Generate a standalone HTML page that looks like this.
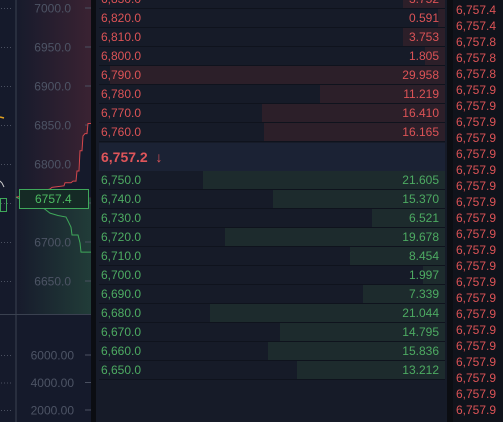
<!DOCTYPE html>
<html><head><meta charset="utf-8"><style>
*{margin:0;padding:0;box-sizing:border-box}
body{width:503px;height:422px;overflow:hidden;background:#0b0d12;font-family:"Liberation Sans",sans-serif;position:relative}
.abs{position:absolute}
#book{left:96px;top:0;width:351px;height:422px;background:#161b28}
.row{position:absolute;left:3px;width:346px;height:19px;border-bottom:1px solid #0f131d;font-size:12px;line-height:19px}
.row .bar{position:absolute;right:0;top:0;height:18px}
.row .p{position:absolute;left:2px}
.row .v{position:absolute;right:6px}
.ask{color:#dc5356}.bid{color:#4dab62}
.ask .bar{background:#2c1f29}.bid .bar{background:#1d2b2d}
#trades{left:453px;top:0;width:50px;height:422px;background:#10131b}
.t{position:absolute;left:3px;font-size:12px;color:#dc5356;line-height:14px}
</style></head><body>
<svg class="abs" style="left:0;top:0" width="91" height="422" viewBox="0 0 91 422">
<defs>
<linearGradient id="rg" x1="0" y1="0" x2="1" y2="0"><stop offset="0" stop-color="#171b2c"/><stop offset="1" stop-color="#3a2232"/></linearGradient>
<linearGradient id="gg" x1="0" y1="0" x2="1" y2="0"><stop offset="0" stop-color="#171b2c"/><stop offset="1" stop-color="#213c38"/></linearGradient>
</defs>
<rect width="91" height="422" fill="#151a2b"/>
<rect x="17" y="0" width="74" height="198" fill="url(#rg)"/>
<rect x="17" y="198" width="74" height="116" fill="url(#gg)"/>
<g id="depth"></g>
</svg>
<div id="book" class="abs"></div>
<div id="trades" class="abs"></div>
<script>
const yTicks=[7000,6950,6900,6850,6800,6750,6700,6650];
const volTicks=["6000.00","4000.00","2000.00"];
const askPrices=[6757.4,6762,6765,6768,6770,6772,6776,6776,6778,6778,6791,6791,6817,6817,6836,6839,6839,6852,6852];
const askDepth=[0,19,26,34,36,48,49,55,57,60,61,63,64,66,67,69,71,72,75];
const bidPrices=[6757.4,6752,6750,6742,6737,6734,6732,6727,6719,6709,6709,6699,6687,6687];
const bidDepth=[0,9,17,29,34,42,50,52,55,56,62,64,65,75];
const askBook=[["6,830.0",3.752],["6,820.0",0.591],["6,810.0",3.753],["6,800.0",1.805],["6,790.0",29.958],["6,780.0",11.219],["6,770.0",16.410],["6,760.0",16.165]];
const bidBook=[["6,750.0",21.605],["6,740.0",15.370],["6,730.0",6.521],["6,720.0",19.678],["6,710.0",8.454],["6,700.0",1.997],["6,690.0",7.339],["6,680.0",21.044],["6,670.0",14.795],["6,660.0",15.836],["6,650.0",13.212]];
const midPrice="6,757.2";
const trades=["6,757.4","6,757.4","6,757.8","6,757.8","6,757.8"].concat(Array(21).fill("6,757.9"));
const NS="http://www.w3.org/2000/svg";
const yP=p=>8+(7000-p)/50*39;
const xD=d=>16+d;
const g=document.getElementById('depth');
function mk(t,a){const e=document.createElementNS(NS,t);for(const k in a)e.setAttribute(k,a[k]);g.appendChild(e);return e;}
// axis
let ax=mk('line',{x1:16,y1:0,x2:16,y2:422,stroke:'#3a4150','stroke-width':1});

let sep=mk('line',{x1:0,y1:314.5,x2:91,y2:314.5,stroke:'#3a4150','stroke-width':1});

yTicks.forEach(v=>{const y=yP(v);
 for(let i=0;i<4;i++){const d=mk('rect',{x:1+i*3,y:y,width:1,height:1,fill:'#4a5060'});}
 const tl=mk('line',{x1:85,y1:y,x2:91,y2:y,stroke:'#4a5060'});
 const t=mk('text',{x:71,y:y+4.5,'text-anchor':'end','font-size':12,fill:'#4d5465','font-family':'Liberation Sans'});t.textContent=v.toFixed(1);
 });
volTicks.forEach((v,i)=>{const y=355+i*27.5;
 for(let k=0;k<4;k++){const d=mk('rect',{x:1+k*3,y:y,width:1,height:1,fill:'#4a5060'});}
 const tl=mk('line',{x1:85,y1:y,x2:91,y2:y,stroke:'#4a5060'});
 const t=mk('text',{x:74,y:y+4.5,'text-anchor':'end','font-size':12,fill:'#4d5465','font-family':'Liberation Sans'});t.textContent=v;
 });
function area(pr,dp,fill,stroke,name){
 let pts=pr.map((p,i)=>xD(dp[i])+','+yP(p));
 const a=mk('polygon',{points:pts.join(' ')+' 91,'+yP(pr[pr.length-1])+' 91,'+yP(pr[0]),fill:fill});
 
 const l=mk('polyline',{points:pts.join(' ')+' 91,'+yP(pr[pr.length-1]),fill:'none',stroke:stroke,'stroke-width':1});
 }
area(askPrices,askDepth,'#151a2b','#d4474c','ask-depth');
area(bidPrices,bidDepth,'none','#3fa85a','bid-depth');
const bx=mk('rect',{x:19.5,y:189.5,width:69,height:19,fill:'#152a25',stroke:'#3fa85a','stroke-width':1});

const bt=mk('text',{x:35,y:203,'font-size':12,fill:'#4dbb62','font-family':'Liberation Sans'});bt.textContent='6757.4';

const gm=mk('rect',{x:0.5,y:198.5,width:6,height:13,fill:'none',stroke:'#3fa85a'});
const ym=mk('line',{x1:0,y1:117,x2:4,y2:118,stroke:'#e0a020','stroke-width':1.5});
const wm=mk('polyline',{points:'0,181 2,183 4,187',fill:'none',stroke:'#ccc'});

const book=document.getElementById('book');
const maxW=335/29.958;
function row(side,top,p,v){
 const r=document.createElement('div');r.className='row '+side;r.style.top=top+'px';
 
 const b=document.createElement('div');b.className='bar';b.style.width=(v*maxW)+'px';
 
 const ps=document.createElement('span');ps.className='p';ps.textContent=p;
 
 const vs=document.createElement('span');vs.className='v';vs.textContent=v.toFixed(3);
 
 r.appendChild(b);r.appendChild(ps);r.appendChild(vs);book.appendChild(r);}
askBook.forEach((a,i)=>row('ask',-10+i*19,a[0],a[1]));
const mid=document.createElement('div');mid.className='abs';

mid.style.cssText='left:3px;top:143px;width:346px;height:28px;background:#1b2234;color:#e0555a;font-weight:bold;font-size:14px;line-height:28px;padding-left:2px';
mid.textContent=midPrice+'  \u2193';mid.style.whiteSpace='pre';book.appendChild(mid);
bidBook.forEach((a,i)=>row('bid',171+i*19,a[0],a[1]));
const tr=document.getElementById('trades');
trades.forEach((t,i)=>{const d=document.createElement('div');d.className='t';d.style.top=(3+i*16)+'px';d.textContent=t;
 tr.appendChild(d);});
</script>
</body></html>
